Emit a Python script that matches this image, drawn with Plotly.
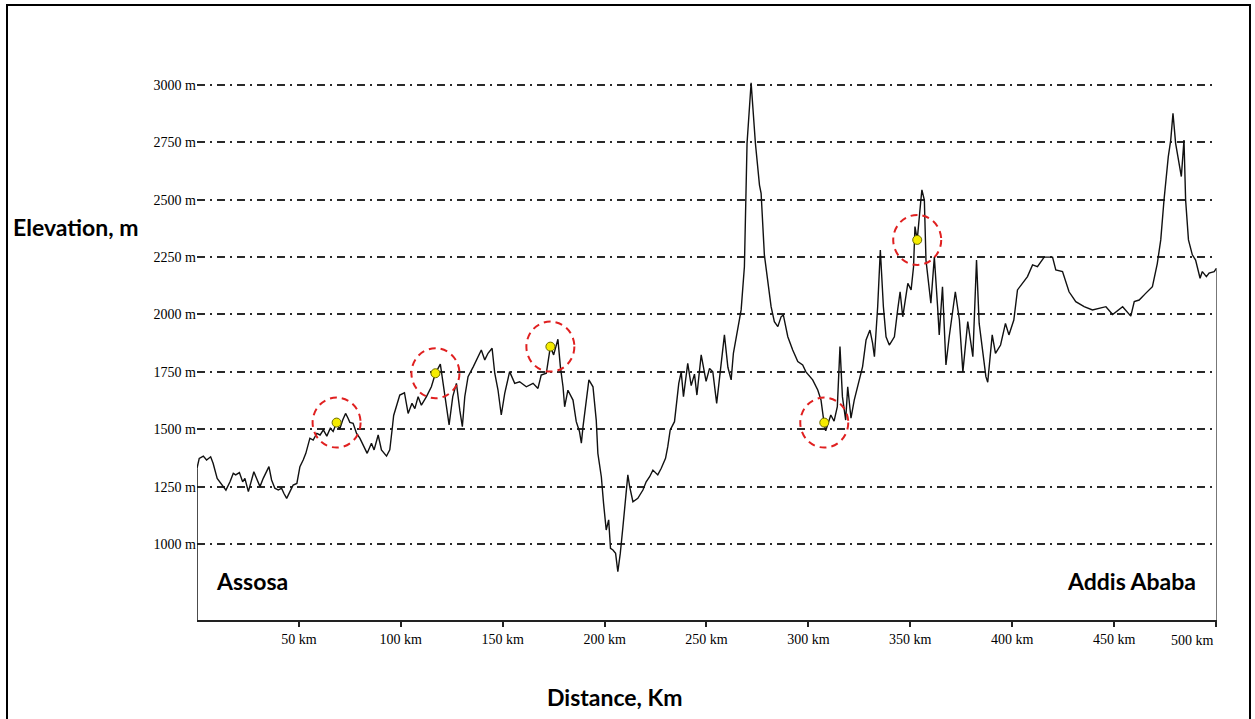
import plotly.graph_objects as go

# ---- data ----
dist_km = [0, 1.1, 3.1, 4.7, 6.7, 7.9, 9.9, 12.1, 14.2, 16.2, 17.8, 19.0, 20.8, 22.4, 23.5, 25.2, 26.4, 27.9,
           29.2, 30.9, 32.5, 33.8, 35.3, 36.6, 38.2, 39.9, 41.5, 42.6, 44.0, 45.6, 47.2, 49.0, 50.5, 52.1,
           53.4, 55.4, 57.0, 58.8, 60.4, 62.0, 63.7, 65.4, 66.8, 68.5, 70.0, 71.5, 72.9, 74.0, 75.0, 76.6,
           78.3, 79.9, 81.5, 83.5, 85.6, 86.9, 88.9, 90.5, 93.0, 94.6, 95.9, 96.5, 99.5, 101.8, 103.6,
           105.5, 106.9, 108.5, 110.1, 112.6, 115.0, 117.0, 119.4, 121.6, 123.7, 125.5, 127.3, 129.0,
           130.2, 131.4, 133.0, 135.6, 137.7, 139.5, 141.2, 142.8, 144.8, 146.1, 147.7, 149.3, 151.0,
           153.4, 155.9, 158.3, 161.6, 164.9, 167.3, 168.9, 171.4, 173.4, 175.0, 177.1, 178.3, 179.6,
           180.4, 182.0, 184.5, 186.1, 187.7, 188.6, 189.4, 192.3, 194.3, 195.9, 196.7, 198.4, 199.5,
           200.8, 202.0, 202.9, 204.1, 205.4, 206.5, 207.7, 209.0, 210.3, 211.4, 212.3, 213.9, 216.3,
           218.8, 220.4, 222.1, 223.7, 226.1, 227.8, 229.9, 231.0, 232.2, 234.3, 236.4, 237.6, 238.7,
           240.8, 242.5, 244.1, 245.3, 247.4, 249.8, 251.5, 253.1, 255.0, 257.1, 258.8, 260.5, 262.1,
           263.2, 265.4, 267.0, 268.6, 269.1, 269.9, 271.9, 274.0, 276.0, 276.8, 278.4, 280.1, 281.7,
           283.3, 285.0, 286.6, 287.7, 289.9, 292.3, 294.8, 297.2, 298.8, 302.1, 304.6, 306.2, 307.8,
           308.5, 311.0, 312.6, 314.2, 315.5, 316.7, 318.3, 319.3, 320.9, 322.5, 324.2, 326.6, 328.3,
           330.2, 331.5, 332.4, 334.0, 335.3, 336.8, 338.1, 339.7, 342.2, 343.8, 345.0, 346.3, 348.8,
           350.4, 351.6, 352.3, 353.4, 355.2, 355.7, 356.9, 357.7, 360.1, 361.8, 363.4, 364.2, 365.8,
           367.5, 369.1, 372.1, 374.1, 375.8, 378.2, 380.7, 382.5, 383.8, 387.1, 388.0, 390.2, 391.8,
           394.3, 396.7, 398.4, 400.8, 402.6, 405.1, 407.5, 410.0, 412.4, 415.7, 419.8, 421.4, 424.7,
           427.9, 431.2, 435.3, 439.4, 446.0, 449.3, 454.2, 458.2, 459.9, 462.3, 465.5, 468.8, 471.2,
           472.9, 474.5, 476.6, 477.8, 478.9, 480.2, 483.0, 484.3, 485.1, 486.5, 488.4, 490.0, 492.2,
           493.3, 495.3, 496.6, 499.1, 500.2]
elev_m = [1330, 1373, 1383, 1366, 1380, 1352, 1286, 1257, 1235, 1271, 1308, 1301, 1311, 1271, 1286, 1228, 1271, 1315,
          1286, 1250, 1286, 1308, 1337, 1279, 1243, 1235, 1243, 1221, 1199, 1228, 1257, 1264, 1337, 1366,
          1395, 1461, 1453, 1482, 1475, 1497, 1470, 1504, 1490, 1529, 1500, 1540, 1569, 1550, 1530, 1526,
          1482, 1461, 1431, 1395, 1439, 1410, 1475, 1410, 1383, 1410, 1511, 1560, 1649, 1659, 1569,
          1613, 1590, 1642, 1605, 1642, 1685, 1744, 1784, 1642, 1519, 1642, 1700, 1580,
          1511, 1642, 1729, 1773, 1809, 1845, 1802, 1831, 1853, 1744, 1671, 1562, 1656,
          1751, 1700, 1707, 1685, 1700, 1678, 1736, 1744, 1860, 1824, 1892, 1773, 1685,
          1598, 1670, 1627, 1533, 1489, 1439, 1510, 1715, 1685, 1540, 1395, 1293, 1177,
          1061, 1105, 981, 974, 959, 879, 959, 1075, 1206, 1301, 1250, 1184, 1199,
          1235, 1271, 1293, 1322, 1301, 1330, 1373, 1424, 1497, 1533, 1700, 1750, 1642,
          1787, 1690, 1740, 1649, 1824, 1709, 1765, 1750, 1613, 1770, 1911, 1770, 1715,
          1831, 1940, 2020, 2208, 2455, 2746, 3010, 2746, 2564, 2528, 2260, 2150, 2034,
          1969, 1947, 1990, 1998, 1903, 1845, 1795, 1780, 1750, 1715, 1671, 1627, 1520,
          1493, 1562, 1535, 1598, 1860, 1642, 1540, 1685, 1548, 1627, 1685, 1773, 1889,
          1932, 1875, 1816, 2034, 2281, 2034, 1903, 1867, 1903, 2020, 2099, 1990, 2136,
          2107, 2208, 2383, 2325, 2499, 2543, 2499, 2237, 2049, 2250, 2034, 1911, 2121,
          1780, 1903, 2099, 1976, 1750, 1969, 1816, 2237, 1961, 1729, 1705, 1911, 1831,
          1867, 1961, 1911, 1976, 2107, 2136, 2165, 2216, 2208, 2250, 2250, 2194, 2187,
          2099, 2056, 2034, 2020, 2034, 2000, 2034, 1993, 2056, 2063, 2092, 2121, 2222,
          2325, 2499, 2688, 2760, 2877, 2746, 2601, 2760, 2499, 2325, 2260, 2237, 2158,
          2187, 2165, 2180, 2187, 2201]

# highlighted waypoints (yellow dots in dashed red circles)
waypoint_km = [68.5, 117.0, 173.4, 307.8, 353.4]
waypoint_elev = [1529, 1744, 1860, 1529, 2325]

y_tick_vals = [1000, 1250, 1500, 1750, 2000, 2250, 2500, 2750, 3000]
y_tick_text = [f"{v} m" for v in y_tick_vals]
x_tick_vals = [50, 100, 150, 200, 250, 300, 350, 400, 450, 500]
x_tick_text = [f"{v} km" for v in x_tick_vals]

start_label = "Assosa"
end_label = "Addis Ababa"

# ---- layout geometry (body margin removed via post_script) ----
W, H = 1255, 719
PLOT_L, PLOT_R, PLOT_T, PLOT_B = 197, 1217, 60, 620
ML, MR, MT, MB = PLOT_L, W - PLOT_R, PLOT_T, H - PLOT_B
X_RANGE = [0, 500.5]
Y_RANGE = [668.8, 3108.9]
PW = PLOT_R - PLOT_L
PH = PLOT_B - PLOT_T

def px_x(p):
    return (p - PLOT_L) / PW

def px_y(p):
    return (PLOT_B - p) / PH

fig = go.Figure()

fig.add_trace(go.Scatter(
    x=dist_km, y=elev_m, mode="lines",
    line=dict(color="#111111", width=1.4),
    hoverinfo="x+y", showlegend=False,
))

fig.add_trace(go.Scatter(
    x=waypoint_km, y=waypoint_elev, mode="markers",
    marker=dict(color="#f5ec00", size=9, line=dict(color="#6b6b00", width=1)),
    showlegend=False,
))

shapes = []
kx = (X_RANGE[1] - X_RANGE[0]) / PW
ky = (Y_RANGE[1] - Y_RANGE[0]) / PH
for k, e in zip(waypoint_km, waypoint_elev):
    rx, ry = 24 * kx, 25 * ky
    shapes.append(dict(type="circle", xref="x", yref="y",
                       x0=k - rx, x1=k + rx, y0=e - ry, y1=e + ry,
                       line=dict(color="#e02020", width=2, dash="7px,5px"), layer="above"))
shapes.append(dict(type="line", xref="x", yref="y", x0=dist_km[0], x1=dist_km[0],
                   y0=Y_RANGE[0], y1=elev_m[0], line=dict(color="#111111", width=1.5)))
shapes.append(dict(type="line", xref="x", yref="y", x0=X_RANGE[1], x1=X_RANGE[1],
                   y0=Y_RANGE[0], y1=elev_m[-1], line=dict(color="#777777", width=2)))
# outer frame
shapes.append(dict(type="rect", xref="paper", yref="paper",
                   x0=px_x(7), x1=px_x(1250), y0=px_y(5), y1=px_y(730),
                   line=dict(color="#000000", width=2)))

title_font = dict(family="Lato, 'Open Sans', sans-serif", size=23, color="#000000")
tick_font = dict(family="Liberation Serif", size=14, color="#000000")
annotations = [
    dict(text="<b>Elevation, m</b>", xref="paper", yref="paper", x=px_x(11), y=px_y(227),
         xanchor="left", yanchor="middle", showarrow=False, font=title_font),
    dict(text="<b>Distance, Km</b>", xref="paper", yref="paper", x=px_x(615), y=px_y(697),
         xanchor="center", yanchor="middle", showarrow=False, font=title_font),
    dict(text=f"<b>{start_label}</b>", xref="paper", yref="paper", x=px_x(214), y=px_y(581),
         xanchor="left", yanchor="middle", showarrow=False, font=title_font),
    dict(text=f"<b>{end_label}</b>", xref="paper", yref="paper", x=px_x(1198), y=px_y(581),
         xanchor="right", yanchor="middle", showarrow=False, font=title_font),
    dict(text=x_tick_text[-1], xref="x", yref="paper", x=x_tick_vals[-1], y=px_y(640),
         xanchor="right", yanchor="middle", showarrow=False, font=tick_font),
]

fig.update_layout(
    width=W, height=H,
    margin=dict(l=ML, r=MR, t=MT, b=MB, pad=0),
    paper_bgcolor="white", plot_bgcolor="white",
    shapes=shapes, annotations=annotations,
    xaxis=dict(range=X_RANGE, tickvals=x_tick_vals,
               ticktext=x_tick_text[:-1] + [""],
               showgrid=False, zeroline=False,
               showline=True, linecolor="#222222", linewidth=2,
               ticks="outside", ticklen=5, tickwidth=1.5, tickcolor="#222222",
               tickfont=tick_font),
    yaxis=dict(range=Y_RANGE, tickvals=y_tick_vals, ticktext=y_tick_text,
               showgrid=True, gridcolor="#2a2a2a", gridwidth=2,
               griddash="8px,5px,2px,5px",
               zeroline=False, showline=False, ticks="",
               tickfont=tick_font),
)

fig.write_html(
    "out.html",
    config={"displayModeBar": False},
    post_script="document.body.style.margin='0';document.body.style.overflow='hidden';",
)
